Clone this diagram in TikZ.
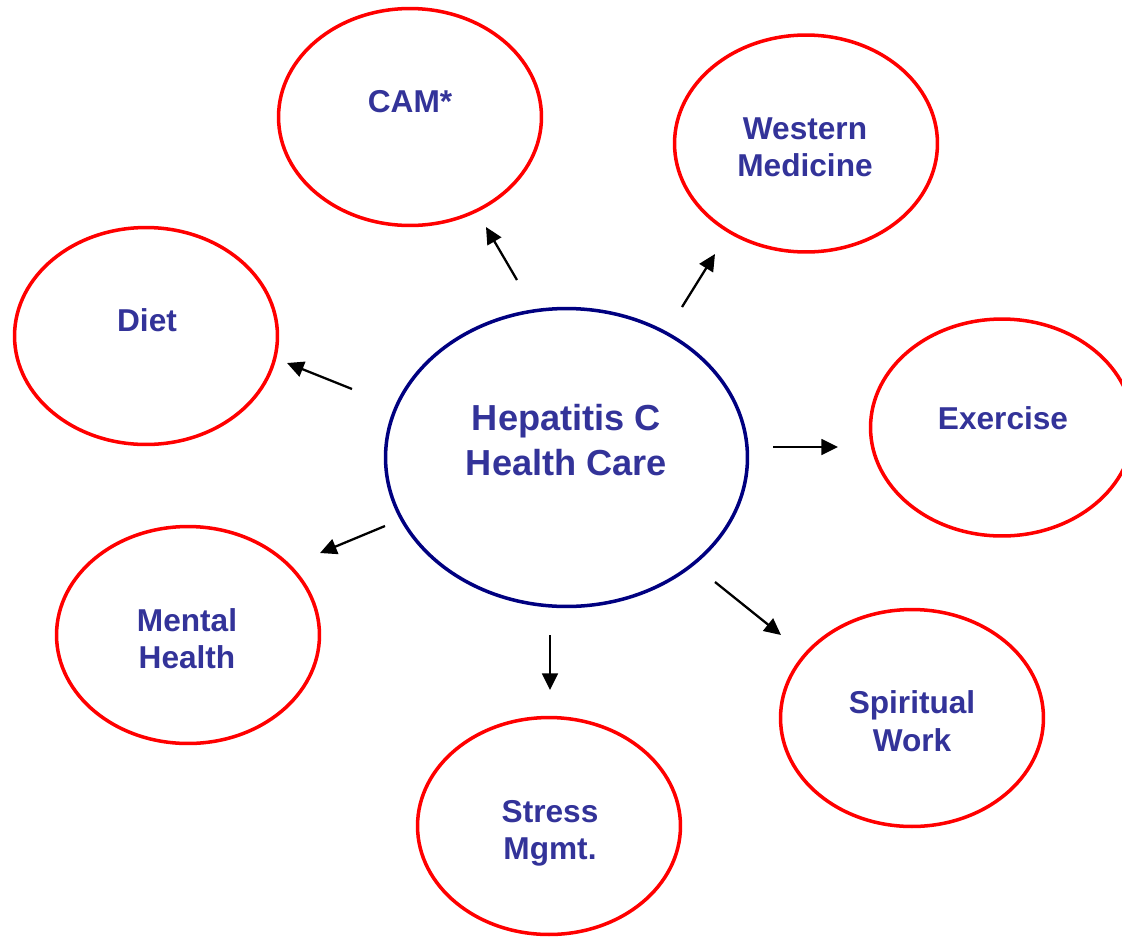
\documentclass[tikz,border=0pt]{standalone}
\usepackage{fontspec}
\setmainfont{Liberation Sans}
\usetikzlibrary{arrows.meta, shapes.geometric}
\definecolor{cred}{HTML}{FF0000}
\definecolor{cnavy}{HTML}{000080}
\definecolor{ctext}{HTML}{333399}
\tikzset{
  every picture/.style={font=\bfseries, line width=2pt},
  bubble/.style={ellipse, draw=#1, minimum width=5.26cm, minimum height=4.34cm, inner sep=0pt},
  bubble/.default=cred,
  hub/.style={bubble=cnavy, minimum width=7.24cm, minimum height=5.96cm},
  topic/.style={text=ctext, align=center, text depth=0pt, inner sep=0pt, font=\bfseries\fontsize{18}{21.3}\selectfont},
  maintopic/.style={topic, font=\bfseries\fontsize{20.6}{25.5}\selectfont},
  arrow/.style={-{Triangle[length=9.5pt, width=9pt]}, draw=black, line width=1.3pt},
}

\begin{document}
\begin{tikzpicture}[x=0.02cm, y=-0.02cm]
  \useasboundingbox (0,0) rectangle (1122,937);
  \clip (0,0) rectangle (1122,937);
  % the centre and its seven topics
  \node[hub] (hub) at (566.5,457.5) {};
  \node[bubble] (cam) at (410,117) {};
  \node[bubble] (west) at (806,143.5) {};
  \node[bubble] (diet) at (146,336) {};
  \node[bubble] (exer) at (1002,427.5) {};
  \node[bubble] (mental) at (188,635) {};
  \node[bubble] (stress) at (549,826) {};
  \node[bubble] (spirit) at (912,718) {};
  \node[maintopic] (hub-t) at (566.5,439.5) {Hepatitis C\\Health Care};
  \node[topic] (cam-t) at (410,101) {CAM*};
  \node[topic] (west-t) at (805,147) {Western\\Medicine};
  \node[topic] (diet-t) at (147,320.5) {Diet};
  \node[topic] (exer-t) at (1003,418.5) {Exercise};
  \node[topic] (mental-t) at (187,638.5) {Mental\\Health};
  \node[topic] (stress-t) at (550,830) {Stress\\Mgmt.};
  \node[topic] (spirit-t) at (912,721) {Spiritual\\Work};
  % free standing arrows between the rings
  \coordinate (cam-a) at (517,280);    \coordinate (cam-b) at (486,227);
  \coordinate (west-a) at (682,307);   \coordinate (west-b) at (715,254);
  \coordinate (diet-a) at (352,389);   \coordinate (diet-b) at (287,363);
  \coordinate (exer-a) at (773,447);   \coordinate (exer-b) at (838,447);
  \coordinate (mental-a) at (385,526); \coordinate (mental-b) at (320,553);
  \coordinate (stress-a) at (550,635); \coordinate (stress-b) at (550,690);
  \coordinate (spirit-a) at (715,582); \coordinate (spirit-b) at (781,635);
  \draw[arrow] (cam-a) -- (cam-b);
  \draw[arrow] (west-a) -- (west-b);
  \draw[arrow] (diet-a) -- (diet-b);
  \draw[arrow] (exer-a) -- (exer-b);
  \draw[arrow] (mental-a) -- (mental-b);
  \draw[arrow] (stress-a) -- (stress-b);
  \draw[arrow] (spirit-a) -- (spirit-b);
\end{tikzpicture}
\end{document}
